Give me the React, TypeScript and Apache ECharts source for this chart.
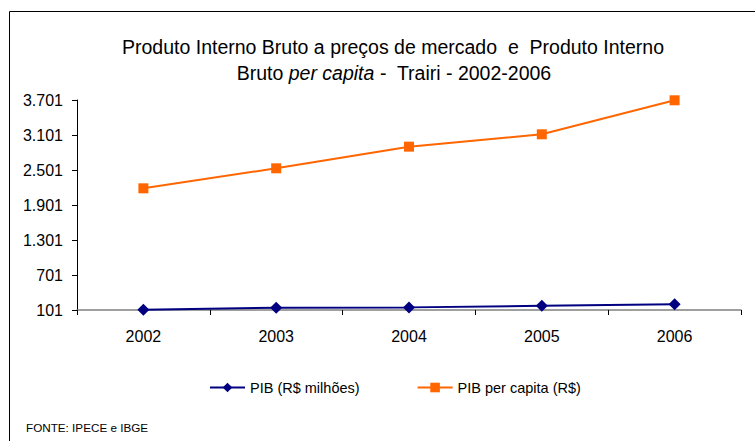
import React, { useEffect, useRef } from "react";
import * as echarts from "echarts";

const years = ["2002", "2003", "2004", "2005", "2006"];
const pibMilhoes = [106, 141, 146, 172, 200];
const pibPerCapita = [2187, 2530, 2901, 3113, 3696];
const axisBase = 101;
const axisStep = 600;
const axisSteps = 6;

const fmt = (v: number) => {
  const s = String(Math.round(v));
  return s.replace(/\B(?=(\d{3})+(?!\d))/g, ".");
};

export default function App() {
  const ref = useRef<HTMLDivElement>(null);
  useEffect(() => {
    if (!ref.current) return;
    const chart = echarts.init(ref.current, null, { renderer: "svg" });
    const font = "Liberation Sans, Arial, sans-serif";
    chart.setOption({
      animation: false,
      backgroundColor: "#ffffff",
      textStyle: { fontFamily: font },
      grid: { left: 77, right: 14, top: 100, bottom: 131, containLabel: false },
      legend: {
        left: 204,
        top: 375,
        itemWidth: 35,
        itemHeight: 12,
        itemGap: 57,
        textStyle: { fontSize: 14.5, color: "#000", fontFamily: font },
        data: ["PIB (R$ milhões)", "PIB per capita (R$)"],
      },
      xAxis: {
        type: "category",
        data: years,
        boundaryGap: true,
        axisLine: { lineStyle: { color: "#808080", width: 1.5 } },
        axisTick: { show: true, length: 5, inside: false, lineStyle: { color: "#000" } },
        axisLabel: { fontSize: 16, color: "#000", margin: 18, fontFamily: font },
      },
      yAxis: {
        type: "value",
        min: 0,
        max: axisStep * axisSteps,
        interval: axisStep,
        splitLine: { show: false },
        axisLine: { show: true, lineStyle: { color: "#000" } },
        axisTick: { show: true, length: 5, lineStyle: { color: "#000" } },
        axisLabel: {
          fontSize: 16,
          color: "#000",
          margin: 14,
          fontFamily: font,
          formatter: (v: number) => fmt(v + axisBase),
        },
      },
      series: [
        {
          name: "PIB (R$ milhões)",
          type: "line",
          data: pibMilhoes.map((v) => v - axisBase),
          symbol: "diamond",
          symbolSize: 12,
          lineStyle: { color: "#000080", width: 2 },
          itemStyle: { color: "#000080" },
          z: 3,
        },
        {
          name: "PIB per capita (R$)",
          type: "line",
          data: pibPerCapita.map((v) => v - axisBase),
          symbol: "rect",
          symbolSize: 10,
          lineStyle: { color: "#FF6600", width: 2 },
          itemStyle: { color: "#FF6600" },
          z: 2,
        },
      ],
      graphic: [
        {
          type: "rect",
          shape: { x: 9.5, y: 11.5, width: 800, height: 500 },
          style: { fill: "none", stroke: "#000", lineWidth: 1 },
          silent: true,
        },
        {
          type: "text",
          x: 393,
          y: 47,
          style: {
            text: "Produto Interno Bruto a preços de mercado  e  Produto Interno",
            font: "19.5px " + font,
            fill: "#000",
            align: "center",
            verticalAlign: "middle",
          },
        },
        {
          type: "text",
          x: 394,
          y: 73,
          style: {
            text: "{n|Bruto }{i|per capita}{n| -  Trairi - 2002-2006}",
            fill: "#000",
            align: "center",
            verticalAlign: "middle",
            rich: {
              n: { fontSize: 19.5, fontFamily: font, fill: "#000" },
              i: { fontSize: 19.5, fontFamily: font, fontStyle: "italic", fill: "#000" },
            },
          },
        },
        {
          type: "text",
          left: 26,
          top: 421,
          style: { text: "FONTE: IPECE e IBGE", fill: "#000", font: "11.7px " + font },
        },
      ],
    });
    return () => chart.dispose();
  }, []);
  return (
    <div
      ref={ref}
      style={{ position: "absolute", left: 0, top: 0, width: 755, height: 441 }}
    />
  );
}
